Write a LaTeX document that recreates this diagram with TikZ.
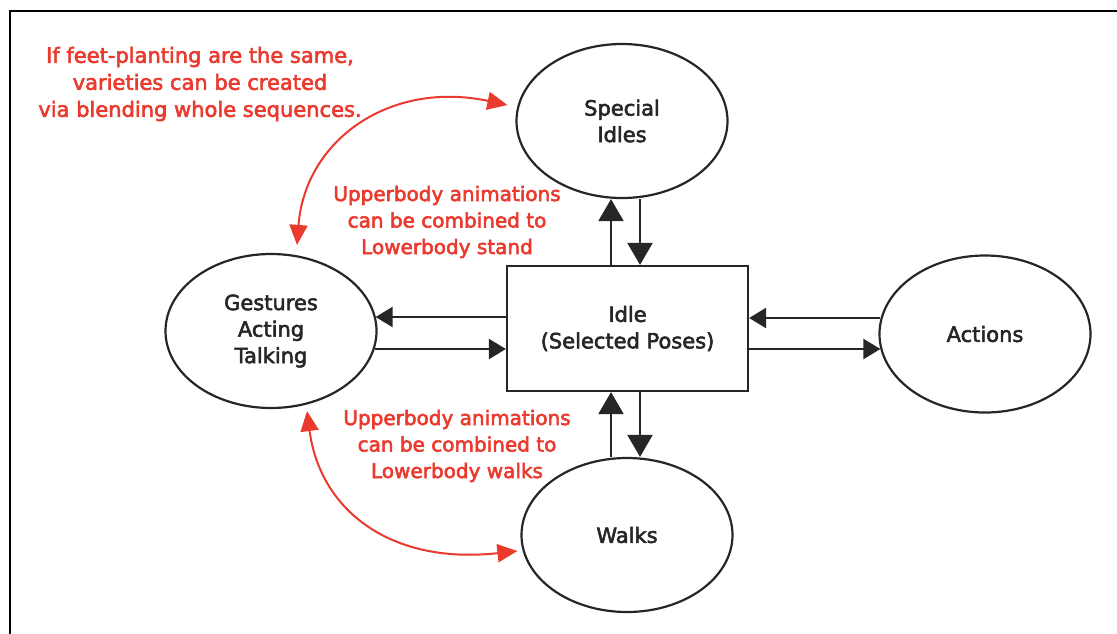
\documentclass[tikz,border=0pt]{standalone}
\usepackage{fontspec}
\setmainfont{DejaVu Sans}
\usetikzlibrary{shapes.geometric,arrows.meta}
\definecolor{ink}{HTML}{262626}
\definecolor{note}{HTML}{EA3A2E}
% slightly heavier strokes for the hand-lettered look
\newcommand{\heavytext}[1]{\special{pdf:literal direct 2 Tr 0.55 w}#1\special{pdf:literal direct 0 Tr}}
\begin{document}
\begin{tikzpicture}[x=1pt,y=-1pt,
  label font/.style={font=\fontsize{21}{26.5}\selectfont},
  note font/.style={font=\fontsize{20}{26.5}\selectfont},
  state/.style={ellipse,draw=ink,line width=2.2pt,inner sep=0pt,
    minimum width=211pt,minimum height=154pt,align=center,text=ink,label font},
  hub/.style={rectangle,draw=ink,line width=2.2pt,inner sep=0pt,
    minimum width=241pt,minimum height=125pt,align=center,text=ink,label font},
  remark/.style={align=center,text=note,note font},
  flowh/.style={draw=ink,line width=2.2pt,-{Triangle[length=17pt,width=20pt]}},
  flowv/.style={draw=ink,line width=2.2pt,-{Triangle[length=22pt,width=25pt]}},
  blend/.style={draw=note,line width=2pt,
    {Triangle[length=20pt,width=18pt]}-{Triangle[length=20pt,width=18pt]}}
]
\useasboundingbox (0,0) rectangle (1117,633);

% frame
\draw[black,line width=2.6pt] (10,650) -- (10,11) -- (1130,11);

% states
\node[hub]   (idle)  at (627.5,328.5) {\heavytext{Idle}\\\heavytext{(Selected Poses)}};
\node[state] (spec)  at (622,121) {\heavytext{Special}\\\heavytext{Idles}};
\node[state] (gest)  at (271,331) {\heavytext{Gestures}\\\heavytext{Acting}\\\heavytext{Talking}};
\node[state, minimum height=157pt] (act) at (985,334) {\heavytext{Actions}};
\node[state] (walks) at (627,535) {\heavytext{Walks}};

% idle <-> special idles
\draw[flowv] ([xshift=-16.5pt]idle.north) -- ([xshift=-11pt]spec.south);
\draw[flowv] ([xshift=18pt]spec.south) -- ([xshift=12.5pt]idle.north);

% idle <-> walks
\draw[flowv] ([xshift=-16pt]walks.north) -- ([xshift=-16.5pt]idle.south);
\draw[flowv] ([xshift=12.5pt]idle.south) -- ([xshift=13pt]walks.north);

% idle <-> gestures
\draw[flowh] ([yshift=11.5pt]idle.west) -- ([yshift=14pt,xshift=-2pt]gest.east);
\draw[flowh] ([yshift=-18pt,xshift=-3pt]gest.east) -- ([yshift=-20.5pt]idle.west);

% idle <-> actions
\draw[flowh] ([yshift=16pt,xshift=2pt]act.west) -- ([yshift=10.5pt]idle.east);
\draw[flowh] ([yshift=-20.5pt]idle.east) -- ([yshift=-15pt,xshift=2pt]act.west);

% blending notes
\draw[blend] ([xshift=26pt,yshift=8pt]gest.north) .. controls (305,140) and (390,80) .. ([xshift=-8pt,yshift=16pt]spec.west);
\draw[blend] ([xshift=36pt,yshift=-2pt]gest.south) .. controls (320,510) and (390,565) .. ([xshift=-3pt,yshift=-16pt]walks.west);

\node[remark, font=\fontsize{21}{27}\selectfont] (n1) at (200,84) {\heavytext{If feet-planting are the same,}\\\heavytext{varieties can be created}\\\heavytext{via blending whole sequences.}};
\node[remark] (n2) at (447,222) {\heavytext{Upperbody animations}\\\heavytext{can be combined to}\\\heavytext{Lowerbody stand}};
\node[remark] (n3) at (457,446) {\heavytext{Upperbody animations}\\\heavytext{can be combined to}\\\heavytext{Lowerbody walks}};
\end{tikzpicture}
\end{document}
